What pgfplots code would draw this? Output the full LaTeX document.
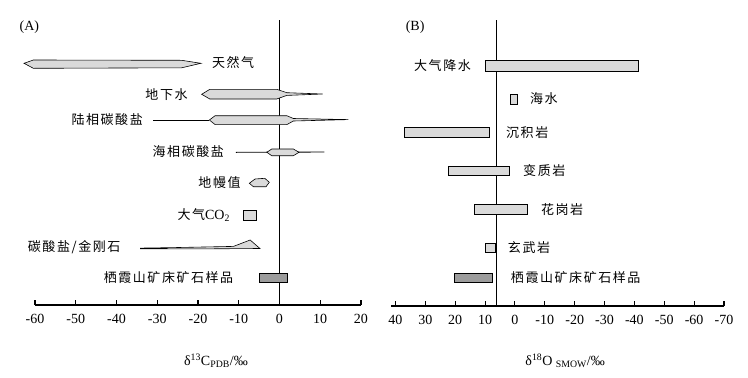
\documentclass[border=0pt]{standalone}
\usepackage{pgfplots}
\pgfplotsset{compat=1.18}
\usepackage{fontspec}
\setmainfont{Liberation Serif}
\newfontfamily\cjk[LetterSpace=12]{Noto Sans CJK SC}
\definecolor{lgray}{HTML}{DADADA}
\definecolor{dgray}{HTML}{9C9C9C}
\newcommand\fs{\fontsize{13}{15}\selectfont}
\newcommand\ft{\fontsize{14}{16}\selectfont}
\tikzset{lab/.style={inner xsep=0pt, font=\fs\cjk}}
\begin{document}
\fs
\begin{tikzpicture}
\useasboundingbox (0,0) rectangle (748pt,-378pt);
% ---------------- Panel A ----------------
\begin{axis}[
  at={(35pt,-305pt)}, anchor=south west, scale only axis,
  width=326pt, height=285pt,
  xmin=-60, xmax=20, ymin=0, ymax=285,
  axis x line=bottom, axis y line=none,
  x axis line style={-, line width=1.1pt},
  xtick={-60,-50,...,20},
  xticklabels={-60,-50,-40,-30,-20,-10,0,10,20},
  xtick align=inside, major tick length=5pt,
  x tick style={line width=1.1pt, black},
  xticklabel style={font=\ft, yshift=-5pt},
  ytick=\empty, no markers,
  clip=false,
]
% zero line
\addplot[black, line width=1.1pt] coordinates {(0,0) (0,285)};
% 天然气
\addplot[draw=black, fill=lgray, line width=0.6pt] coordinates {(-62.7,241.7) (-60.4,245) (-24.0,244.7) (-19.3,241.7) (-24.0,237.2) (-60.4,236.7)} -- cycle;
% 地下水
\addplot[draw=black, fill=lgray, line width=0.6pt] coordinates {(-19.1,210.7) (-17.1,215.7) (-0.7,215.7) (1.8,212.3) (10.6,211) (1.8,209.6) (-0.7,206) (-17.1,206)} -- cycle;
% 陆相碳酸盐
\addplot[black, line width=0.9pt] coordinates {(-31,185) (-17.2,185)};
\addplot[draw=black, fill=lgray, line width=0.6pt] coordinates {(-17.2,185) (-15.8,189.3) (1.8,189.3) (3.4,186.5) (16.9,185.4) (3.4,184) (1.8,180.4) (-15.8,180.4)} -- cycle;
% 海相碳酸盐
\addplot[black, line width=0.9pt] coordinates {(-10.7,152.7) (11.0,153)};
\addplot[draw=black, fill=lgray, line width=0.6pt] coordinates {(-3.1,152.7) (-1.9,156) (3.4,156) (4.8,152.7) (3.4,149.3) (-1.9,149.3)} -- cycle;
% 地幔值
\addplot[draw=black, fill=lgray, line width=0.6pt] coordinates {(-7.4,121.7) (-6.0,126) (-3.6,126.7) (-2.5,122.7) (-3.3,118.3) (-6.4,118.3)} -- cycle;
% 大气CO2
\addplot[draw=black, fill=lgray, line width=0.6pt] coordinates {(-9.0,85) (-5.6,85) (-5.6,94.3) (-9.0,94.3)} -- cycle;
% 碳酸盐/金刚石
\addplot[draw=black, fill=lgray, line width=0.6pt] coordinates {(-34.1,56.9) (-26,57.4) (-11.3,58.6) (-7.2,65) (-4.8,56.5) (-20,56.1) (-34.1,56.3)} -- cycle;
% 栖霞山矿床矿石样品
\addplot[draw=black, fill=dgray, line width=0.8pt] coordinates {(-5.0,22.3) (1.9,22.3) (1.9,31.7) (-5.0,31.7)} -- cycle;
% labels
\node[anchor=west, inner xsep=0pt, font=\ft] at (axis cs:-63.8,278) {(A)};
\node[lab, anchor=west] at (axis cs:-16.6,242) {天然气};
\node[lab, anchor=east] at (axis cs:-22.5,210) {地下水};
\node[lab, anchor=east] at (axis cs:-33.5,185) {陆相碳酸盐};
\node[lab, anchor=east] at (axis cs:-13.6,153) {海相碳酸盐};
\node[lab, anchor=east] at (axis cs:-9.5,122) {地幔值};
\node[anchor=east, inner xsep=0pt, font=\fs] at (axis cs:-12.1,90) {{\cjk 大气}\ft CO\textsubscript{2}};
\node[lab, anchor=east] at (axis cs:-39.0,58) {碳酸盐/金刚石};
\node[lab, anchor=east] at (axis cs:-11.3,27) {栖霞山矿床矿石样品};
\node[font=\ft] at (axis cs:-15.6,-56) {δ\textsuperscript{13}C\textsubscript{PDB}/‰};
\end{axis}
% ---------------- Panel B ----------------
\begin{axis}[
  at={(391pt,-306pt)}, anchor=south west, scale only axis,
  width=333pt, height=286pt,
  xmin=-70, xmax=41.5, x dir=reverse, ymin=0, ymax=286,
  axis x line=bottom, axis y line=none,
  x axis line style={-, line width=1.1pt},
  xtick={40,30,20,10,0,-10,-20,-30,-40,-50,-60,-70},
  xticklabels={40,30,20,10,0,-10,-20,-30,-40,-50,-60,-70},
  xtick align=inside, major tick length=5pt,
  x tick style={line width=1.1pt, black},
  xticklabel style={font=\ft, yshift=-5pt},
  ytick=\empty, no markers,
  clip=false,
]
\addplot[black, line width=1.1pt] coordinates {(6.2,0) (6.2,286)};
% 大气降水
\addplot[draw=black, fill=lgray, line width=0.8pt] coordinates {(10,234.7) (-41.3,234.7) (-41.3,245.3) (10,245.3)} -- cycle;
% 海水
\addplot[draw=black, fill=lgray, line width=0.8pt] coordinates {(1.5,201.7) (-0.8,201.7) (-0.8,211.7) (1.5,211.7)} -- cycle;
% 沉积岩
\addplot[draw=black, fill=lgray, line width=0.8pt] coordinates {(37.1,168.3) (8.4,168.3) (8.4,178.3) (37.1,178.3)} -- cycle;
% 变质岩
\addplot[draw=black, fill=lgray, line width=0.8pt] coordinates {(22.2,130.3) (1.8,130.3) (1.8,140) (22.2,140)} -- cycle;
% 花岗岩
\addplot[draw=black, fill=lgray, line width=0.8pt] coordinates {(13.7,91.7) (-4.2,91.7) (-4.2,101.7) (13.7,101.7)} -- cycle;
% 玄武岩
\addplot[draw=black, fill=lgray, line width=0.8pt] coordinates {(9.9,53.3) (6.6,53.3) (6.6,62.7) (9.9,62.7)} -- cycle;
% 栖霞山矿床矿石样品
\addplot[draw=black, fill=dgray, line width=0.9pt] coordinates {(20.3,23.3) (7.6,23.3) (7.6,32.7) (20.3,32.7)} -- cycle;
% labels
\node[anchor=west, inner xsep=0pt, font=\ft] at (axis cs:36.6,279) {(B)};
\node[lab, anchor=east] at (axis cs:14.7,240) {大气降水};
\node[lab, anchor=west] at (axis cs:-5,207) {海水};
\node[lab, anchor=west] at (axis cs:3,173) {沉积岩};
\node[lab, anchor=west] at (axis cs:-2.7,135) {变质岩};
\node[lab, anchor=west] at (axis cs:-8.7,96) {花岗岩};
\node[lab, anchor=west] at (axis cs:2.4,58) {玄武岩};
\node[lab, anchor=west] at (axis cs:1.4,28) {栖霞山矿床矿石样品};
\node[font=\ft] at (axis cs:-16.8,-55) {δ\textsuperscript{18}O \textsubscript{SMOW}/‰};
\end{axis}
\end{tikzpicture}
\end{document}
